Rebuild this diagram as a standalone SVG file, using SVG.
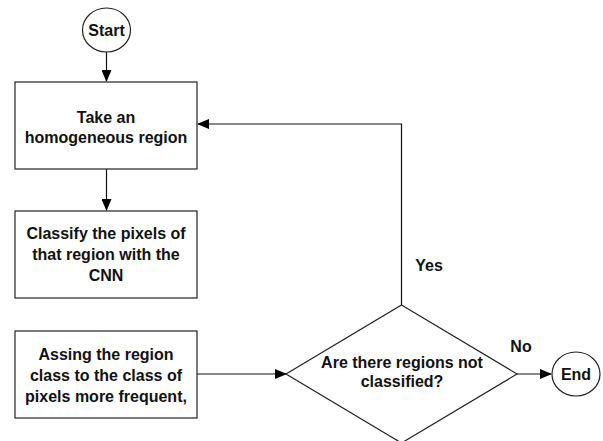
<svg xmlns="http://www.w3.org/2000/svg" width="603" height="441" viewBox="0 0 603 441">
<style>
.s{fill:#fff;stroke:#222;stroke-width:1.2}
.t{font-family:"Liberation Sans",Arial,sans-serif;font-weight:bold;font-size:16px;fill:#111;text-anchor:middle}
.c{fill:none;stroke:#111;stroke-width:1.2}
</style>
<defs>
<marker id="a" markerWidth="12" markerHeight="10" refX="11" refY="5" orient="auto" markerUnits="userSpaceOnUse">
<path d="M0,0 L12,5 L0,10 Z" fill="#000"/>
</marker>
</defs>
<rect width="603" height="441" fill="#fff"/>
<g id="connectors">
<path class="c" d="M106.5,52 V81" marker-end="url(#a)"/>
<path class="c" d="M106.5,169 V210" marker-end="url(#a)"/>
<path class="c" d="M197,374 H286" marker-end="url(#a)"/>
<path class="c" d="M517,374 H551" marker-end="url(#a)"/>
<path class="c" d="M401.5,305 V124 H198" marker-end="url(#a)"/>
</g>
<g id="start">
<ellipse class="s" cx="106.5" cy="30" rx="24" ry="22"/>
<text class="t" x="106.5" y="36">Start</text>
</g>
<g id="take">
<rect class="s" x="15" y="82" width="182" height="87"/>
<text class="t" x="106" y="123">Take an</text>
<text class="t" x="106" y="143">homogeneous region</text>
</g>
<g id="classify">
<rect class="s" x="15" y="211" width="182" height="87"/>
<text class="t" x="106" y="239">Classify the pixels of</text>
<text class="t" x="106" y="260">that region with the</text>
<text class="t" x="106" y="281">CNN</text>
</g>
<g id="assign">
<rect class="s" x="15" y="331" width="182" height="87"/>
<text class="t" x="106" y="360">Assing the region</text>
<text class="t" x="106" y="381">class to the class of</text>
<text class="t" x="106" y="402">pixels more frequent,</text>
</g>
<g id="decision">
<path class="s" d="M401.5,305 L517,374 L401.5,443 L286,374 Z"/>
<text class="t" x="402" y="368">Are there regions not</text>
<text class="t" x="402" y="387">classified?</text>
</g>
<g id="end">
<ellipse class="s" cx="576" cy="374" rx="24" ry="22"/>
<text class="t" x="576" y="380">End</text>
</g>
<g id="labels">
<text class="t" x="429" y="271">Yes</text>
<text class="t" x="521" y="352">No</text>
</g>
</svg>
